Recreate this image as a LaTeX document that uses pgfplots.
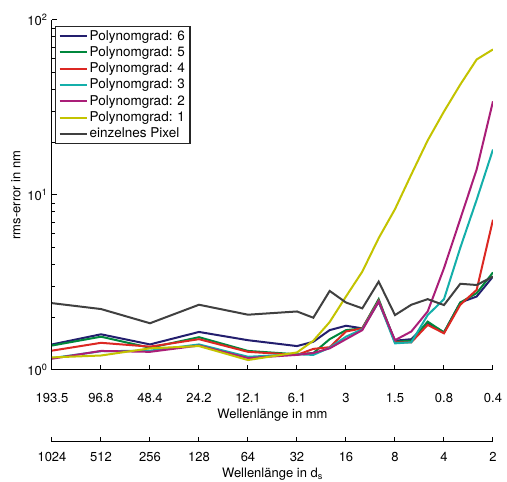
\documentclass[border=0pt]{standalone}
\usepackage{pgfplots}
\pgfplotsset{compat=1.18}
\usepackage{fontspec}
\setmainfont{TeX Gyre Heros}
\definecolor{c6}{RGB}{35,30,110}
\definecolor{c5}{RGB}{0,135,60}
\definecolor{c4}{RGB}{220,40,35}
\definecolor{c3}{RGB}{20,175,170}
\definecolor{c2}{RGB}{170,30,120}
\definecolor{c1}{RGB}{195,195,0}
\definecolor{cp}{RGB}{64,64,64}
\pgfplotstableread{
t      p6    p5    p4    p3    p2    p1    px
0      1.40  1.38  1.29  1.17  1.16  1.18  2.41
1      1.60  1.55  1.43  1.28  1.285 1.21  2.23
2      1.40  1.34  1.36  1.29  1.27  1.33  1.85
3      1.65  1.54  1.50  1.40  1.38  1.37  2.36
4      1.48  1.285 1.27  1.19  1.17  1.14  2.07
5      1.37  1.23  1.22  1.23  1.22  1.26  2.16
5.333  1.45  1.25  1.32  1.22  1.25  1.47  1.99
5.667  1.69  1.50  1.35  1.34  1.33  1.88  2.83
6      1.79  1.69  1.66  1.55  1.50  2.63  2.43
6.333  1.73  1.73  1.73  1.71  1.69  3.65  2.25
6.667  2.46  2.54  2.49  2.46  2.46  5.67  3.20
7      1.47  1.45  1.44  1.42  1.48  8.3   2.06
7.333  1.50  1.47  1.44  1.44  1.66  13.1  2.36
7.667  1.85  1.89  1.81  2.06  2.16  20.5  2.54
8      1.64  1.64  1.62  2.54  3.82  30.0  2.35
8.333  2.43  2.43  2.36  5.0   7.3   42.8  3.11
8.667  2.63  2.75  2.87  9.4   14.0  59.5  3.06
9      3.42  3.61  7.22  18.2  34.3  67.9  3.42
}\datatable
\begin{document}
\fontsize{13}{15.6}\selectfont
\begin{tikzpicture}
\useasboundingbox (-52pt,-112pt) rectangle (455pt,370pt);
\begin{axis}[
  at={(0pt,0pt)}, anchor=south west,
  scale only axis, width=441pt, height=350pt,
  xmin=0, xmax=9, ymode=log, ymin=1, ymax=100,
  axis x line*=bottom, axis y line*=left,
  axis line style={line width=1pt, black},
  tick style={line width=1pt, black},
  tick align=inside,
  major tick length=5pt, minor tick length=3pt,
  xtick={0,...,9},
  xticklabels={193.5,96.8,48.4,24.2,12.1,6.1,3,1.5,0.8,0.4},
  xticklabel style={yshift=-19pt},
  ytick={1,10,100},
  yticklabels={10\textsuperscript{0},10\textsuperscript{1},10\textsuperscript{2}},
  ylabel={rms-error in nm},
  xlabel={Wellenlänge in mm},
  xlabel style={yshift=3pt},
  ylabel style={yshift=-2pt},
  legend style={at={(0.007,0.984)}, anchor=north west, draw=black!85,
    line width=1.2pt,
    font=\fontsize{13.5}{16}\selectfont,
    inner xsep=3pt, inner ysep=2pt, row sep=0.5pt},
  legend cell align=left,
  legend image code/.code={\draw[mark repeat=2,mark phase=2,#1] plot coordinates {(0pt,0pt) (13.5pt,0pt) (27pt,0pt)};},
]
\addplot[c6, line width=2pt] table[x=t,y=p6] {\datatable};
\addlegendentry{Polynomgrad: 6}
\addplot[c5, line width=2pt] table[x=t,y=p5] {\datatable};
\addlegendentry{Polynomgrad: 5}
\addplot[c4, line width=2pt] table[x=t,y=p4] {\datatable};
\addlegendentry{Polynomgrad: 4}
\addplot[c3, line width=2pt] table[x=t,y=p3] {\datatable};
\addlegendentry{Polynomgrad: 3}
\addplot[c2, line width=2pt] table[x=t,y=p2] {\datatable};
\addlegendentry{Polynomgrad: 2}
\addplot[c1, line width=2pt] table[x=t,y=p1] {\datatable};
\addlegendentry{Polynomgrad: 1}
\addplot[cp, line width=2pt] table[x=t,y=px] {\datatable};
\addlegendentry{einzelnes Pixel}
\end{axis}
\begin{axis}[
  at={(0pt,-72pt)}, anchor=south west,
  scale only axis, width=441pt, height=1pt,
  xmin=0, xmax=9, ymin=0, ymax=1,
  axis x line*=bottom, axis y line=none,
  axis line style={line width=1pt, black},
  tick style={line width=1pt, black},
  tick align=inside, major tick length=5pt,
  xtick={0,...,9}, ytick=\empty,
  xticklabels={1024,512,256,128,64,32,16,8,4,2},
  xticklabel style={yshift=-6pt},
  xlabel={Wellenlänge in d\textsubscript{s}},
  xlabel style={yshift=3pt},
]
\addplot[draw=none] coordinates {(0,0.5)};
\end{axis}
\end{tikzpicture}
\end{document}
